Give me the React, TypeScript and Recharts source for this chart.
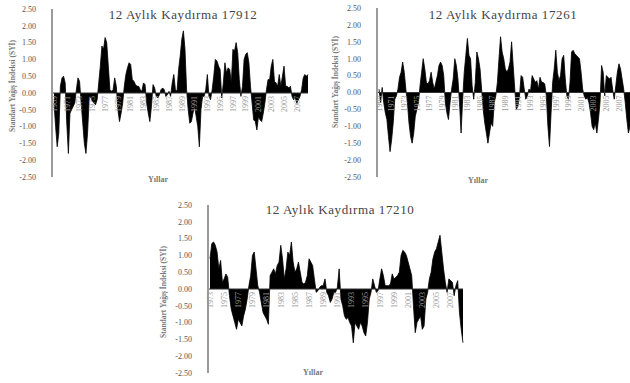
import { Area, AreaChart, ReferenceLine, XAxis, YAxis } from "recharts";

// 12-month SPI at roughly 4 values per year
const spi17912 = [
  -0.3, -1.0, -1.6, -1.2, 0.2, 0.45, 0.5, 0.3, -0.9, -1.8, -0.6, -0.5, -0.4, -0.3, 0.1, 0.45,
  0.35, -0.3, -0.9, -1.5, -1.8, -1.2, -0.2, -0.1, -0.25, -0.3, -0.35, -0.2, 0.3, 0.8, 1.4, 1.3,
  1.65, 1.5, 0.8, 0.1, 0.05, 0.1, 0.45, 0.2, -0.5, -0.85, -0.6, -0.3, 0.2, 0.55, 0.75, 0.9,
  0.85, 0.4, 0.35, 0.25, 0.2, 0.2, 0.1, 0.05, 0.3, 0.25, -0.3, -0.6, -0.85, -0.4, 0.25, 0.15,
  -0.1, -0.15, -0.05, 0.1, 0.15, 0.1, -0.1, -0.05, 0.05, -0.1, 0.3, 0.55, 0.1, 0.05, 0.7, 1.1,
  1.6, 1.85, 1.3, 0.1, -0.5, -0.9, -0.85, -0.6, -0.4, -0.7, -1.0, -1.6, -0.5, -0.1, -0.1, 0.1,
  0.55, -0.1, -0.2, 0.1, 0.5, 1.0, 0.95, 0.8, 0.7, -0.15, 0.3, 0.9, 0.6, 0.75, 0.7, 0.3,
  1.3, 1.25, 1.5, 1.2, 0.4, -0.1, 0.2, 1.0, 1.15, 1.2, 0.9, 0.2, -0.3, -0.8, -0.85, -1.1,
  -0.7, -0.8, -0.85, -0.6, -0.3, 0.1, 0.4, 0.4, 0.8, 1.0, 0.35, 0.3, 0.2, 0.55, 0.2, 0.5,
  0.8, 0.2, 0.2, 0.15, 0.2, -0.1, -0.2, -0.15, -0.3, -0.2, -0.1, 0.1, 0.45, 0.55, 0.5, 0.55,
];

const spi17261 = [
  0.1, -0.3, 0.15, -0.3, -0.6, -0.8, -1.3, -1.75, -1.4, -0.9, -0.2, -0.1, 0.1, 0.45, 0.6, 0.9,
  0.6, 0.1, -0.3, -0.9, -1.3, -1.5, -1.2, -0.7, -0.5, -0.3, 0.2, 0.6, 1.0, 0.7, 0.3, 0.25,
  0.35, 0.6, 0.3, 0.1, 0.3, 0.5, 0.8, 0.9, 0.8, 0.5, -0.3, -0.6, -0.8, -0.3, 0.1, 0.4,
  1.0, 0.8, 0.4, -0.3, -1.2, -0.2, 0.6, 1.1, 1.6, 1.1, 1.0, 0.2, -0.2, 0.3, 1.2, 1.0,
  0.7, 0.1, -0.5, -0.9, -1.2, -1.5, -1.2, -0.9, -1.0, -0.3, -0.1, 0.3, 1.0, 1.65, 1.2, 1.0,
  0.7, 0.6, 0.7, 0.9, 1.5, 0.8, 0.1, -0.5, -0.4, -0.1, 0.5, 0.45, 0.1, -0.2, -0.1, 0.1,
  0.05, 0.5, 0.4, 0.3, 0.35, 0.1, 0.45, 0.3, 0.3, 0.25, -0.1, -1.0, -1.6, -0.6, 0.3, 0.7,
  1.25, 0.6, 0.35, 0.5, 1.0, 1.1, 0.4, -0.1, -0.2, 0.3, 1.2, 1.25, 1.15, 1.1, 1.05, 1.0,
  0.6, 0.1, -0.1, -0.2, -0.15, -0.3, -0.6, -1.0, -1.1, -0.9, -1.2, -0.8, -0.3, 0.8, 0.6, -0.1,
  0.5, 0.45, 0.4, 0.45, 0.1, -0.2, 0.2, 0.6, 0.85, 0.7, 0.4, 0.1, -0.3, -0.8, -1.2, -1.0,
];

const spi17210 = [
  0.9, 1.35, 1.4, 1.3, 1.1, 0.6, 0.85, 0.2, 0.3, 0.45, 0.35, -0.2, -0.6, -0.8, -1.0, -1.2,
  -0.9, -1.0, -1.1, -0.8, -0.6, -0.3, 0.1, 0.4, 1.0, 1.1, 0.6, 0.1, -0.1, -0.4, -0.7, -0.8,
  -0.9, -1.05, 0.4, 0.5, 0.6, 0.45, 0.7, 0.8, 1.3, 0.9, 0.3, 0.6, 1.1, 1.0, 1.4, 0.8,
  0.5, 0.6, 0.8, 0.5, 0.2, 0.15, 0.2, 0.4, 0.9, 0.8, 0.7, 0.3, -0.1, -0.05, 0.05, 0.1,
  0.1, 0.3, -0.1, -0.2, -0.4, -0.3, -0.1, -0.1, 0.05, 0.6, -0.3, -0.5, -0.8, -0.9, -0.85, -1.0,
  -1.1, -1.6, -1.0, -1.1, -1.2, -1.0, -1.1, -1.3, -1.4, -1.0, -0.3, -0.1, 0.3, 0.1, -0.1, -0.05,
  0.3, 0.6, 0.4, 0.1, 0.1, 0.1, 0.15, 0.45, 0.3, 0.35, 0.4, 0.5, 1.0, 1.15, 1.1, 1.0,
  0.8, 0.6, 0.4, -0.5, -1.3, -1.0, -0.9, -0.8, -1.2, -1.1, -0.3, -0.1, 0.3, 0.5, 0.9, 1.1,
  1.2, 1.4, 1.6, 1.1, 0.6, 0.2, -0.1, 0.3, 0.25, 0.2, -0.2, 0.1, 0.25, -0.7, -1.2, -1.6,
];

const start17912 = 1969;
const start17261 = 1969;
const start17210 = 1973;

const labels17912 = [1969, 1971, 1973, 1975, 1977, 1979, 1981, 1983, 1985, 1987, 1989, 1991, 1993, 1995, 1997, 1999, 2001, 2003, 2005, 2007];
const labels17261 = [1969, 1971, 1973, 1975, 1977, 1979, 1981, 1983, 1985, 1987, 1989, 1991, 1993, 1995, 1997, 1999, 2001, 2003, 2005, 2007];
const labels17210 = [1973, 1975, 1977, 1979, 1981, 1983, 1985, 1987, 1989, 1991, 1993, 1995, 1997, 1999, 2001, 2003, 2005, 2007];

const yTicks = [2.5, 2, 1.5, 1, 0.5, 0, -0.5, -1, -1.5, -2, -2.5];

const FONT = "'Liberation Serif', 'Times New Roman', serif";
const Y_LABEL = "Standart Yağış İndeksi (SYİ)";

function toRows(values: number[], startYear: number) {
  return values.map((v, i) => ({
    key: `${startYear + Math.floor(i / 4)}-${(i % 4) + 1}`,
    spi: v,
  }));
}

// year labels hang just under the zero line (domain is symmetric, so zero sits mid-plot)
function YearTick(props: any) {
  const { x, y, payload, plotH, labels } = props;
  const [yr, q] = String(payload.value).split("-").map(Number);
  if (q !== 1 || !labels.includes(yr)) return <g />;
  const zy = y - plotH / 2 + 3;
  return (
    <text
      x={x}
      y={zy}
      transform={`rotate(-90 ${x} ${zy})`}
      textAnchor="end"
      dy="0.35em"
      fontSize={8}
      fontFamily={FONT}
      fill="#999"
    >
      {yr}
    </text>
  );
}

type PanelProps = {
  title: string;
  values: number[];
  startYear: number;
  labels: number[];
  left: number;
  top: number;
  width: number;
  height: number;
  axisW: number;
  mTop: number;
  mBottom: number;
  mRight: number;
  titleX: number;
  titleY: number;
  xLabelX: number;
  xLabelY: number;
  yLabelX: number;
  yLabelY: number;
};

function Panel(p: PanelProps) {
  const rows = toRows(p.values, p.startYear);
  const plotH = p.height - p.mTop - p.mBottom - 1;
  return (
    <>
      <div style={{ position: "absolute", left: p.left, top: p.top }}>
        <AreaChart
          width={p.width}
          height={p.height}
          data={rows}
          margin={{ top: p.mTop, right: p.mRight, bottom: p.mBottom, left: 0 }}
        >
          <XAxis
            dataKey="key"
            height={1}
            axisLine={false}
            tickLine={false}
            tickSize={0}
            tickMargin={0}
            interval={0}
            padding={{ left: 2, right: 0 }}
            tick={<YearTick plotH={plotH} labels={p.labels} />}
          />
          <YAxis
            width={p.axisW}
            domain={[-2.5, 2.5]}
            ticks={yTicks}
            interval={0}
            tickFormatter={(v: number) => v.toFixed(2)}
            tickLine={false}
            axisLine={{ stroke: "#9a9a9a", strokeWidth: 2 }}
            tick={{ fontSize: 8, fontFamily: FONT, fill: "#555" }}
            tickMargin={10}
          />
          <Area
            type="linear"
            dataKey="spi"
            baseValue={0}
            fill="#000"
            fillOpacity={1}
            stroke="#000"
            strokeWidth={0.8}
            dot={false}
            activeDot={false}
            isAnimationActive={false}
          />
          <ReferenceLine y={0} stroke="#333" strokeWidth={1} />
        </AreaChart>
      </div>
      <div
        style={{
          position: "absolute",
          left: p.titleX,
          top: p.titleY,
          transform: "translate(-50%, -50%)",
          fontSize: 13,
          letterSpacing: 0.6,
          fontFamily: FONT,
          color: "#444",
          whiteSpace: "nowrap",
        }}
      >
        {p.title}
      </div>
      <div
        style={{
          position: "absolute",
          left: p.xLabelX,
          top: p.xLabelY,
          transform: "translate(-50%, -50%)",
          fontSize: 8,
          fontFamily: FONT,
          fontWeight: "bold",
          color: "#777",
          whiteSpace: "nowrap",
        }}
      >
        Yıllar
      </div>
      <div
        style={{
          position: "absolute",
          left: p.yLabelX,
          top: p.yLabelY,
          transform: "translate(-50%, -50%) rotate(-90deg)",
          fontSize: 7.5,
          fontFamily: FONT,
          fontWeight: "bold",
          color: "#777",
          whiteSpace: "nowrap",
        }}
      >
        {Y_LABEL}
      </div>
    </>
  );
}

export default function App() {
  return (
    <div
      style={{
        position: "fixed",
        left: 0,
        top: 0,
        width: 630,
        height: 383,
        overflow: "hidden",
        background: "#fff",
      }}
    >
      <Panel
        title="12 Aylık Kaydırma 17912"
        values={spi17912}
        startYear={start17912}
        labels={labels17912}
        left={0}
        top={0}
        width={310}
        height={190}
        axisW={52}
        mTop={9}
        mBottom={12}
        mRight={2}
        titleX={183}
        titleY={15}
        xLabelX={158}
        xLabelY={179}
        yLabelX={12}
        yLabelY={86}
      />
      <Panel
        title="12 Aylık Kaydırma 17261"
        values={spi17261}
        startYear={start17261}
        labels={labels17261}
        left={310}
        top={0}
        width={320}
        height={190}
        axisW={67}
        mTop={8}
        mBottom={12}
        mRight={0}
        titleX={503}
        titleY={15}
        xLabelX={478}
        xLabelY={180}
        yLabelX={335}
        yLabelY={82}
      />
      <Panel
        title="12 Aylık Kaydırma 17210"
        values={spi17210}
        startYear={start17210}
        labels={labels17210}
        left={150}
        top={196}
        width={315}
        height={186}
        axisW={58}
        mTop={9}
        mBottom={8}
        mRight={2}
        titleX={340}
        titleY={210}
        xLabelX={313}
        xLabelY={372}
        yLabelX={163}
        yLabelY={292}
      />
    </div>
  );
}
